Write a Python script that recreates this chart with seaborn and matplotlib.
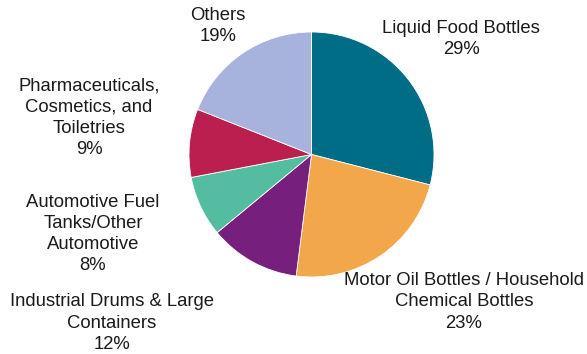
import matplotlib
matplotlib.use("Agg")
import matplotlib.pyplot as plt
import seaborn as sns

categories = [
    "Liquid Food Bottles",
    "Motor Oil Bottles / Household\nChemical Bottles",
    "Industrial Drums & Large\nContainers",
    "Automotive Fuel\nTanks/Other\nAutomotive",
    "Pharmaceuticals,\nCosmetics, and\nToiletries",
    "Others",
]
values = [29, 23, 12, 8, 9, 19]
colors = ["#006D87", "#F2A74B", "#761F7C", "#54BCA0", "#BA1F4F", "#A8B3DD"]

# label centre positions in pixel coordinates (x from left, y from top)
label_pos = [(461, 39), (464, 302), (112, 323), (93, 234), (89, 118), (218, 26)]

sns.set_theme(style="white")
plt.rcParams["font.family"] = ["Liberation Sans", "DejaVu Sans"]

W, H = 587, 354
fig = plt.figure(figsize=(W / 100, H / 100), dpi=100)
ax = fig.add_axes([0, 0, 1, 1])
palette = sns.color_palette(colors)

ax.pie(values, colors=palette, startangle=90, counterclock=False,
       center=(311.5, H - 154.5), radius=122.5, frame=True,
       wedgeprops=dict(edgecolor="white", linewidth=0.6))
ax.set_xlim(0, W)
ax.set_ylim(0, H)
ax.set_aspect("equal")
ax.axis("off")

for cat, val, (x, y) in zip(categories, values, label_pos):
    ax.text(x, H - y, f"{cat}\n{val}%", ha="center", va="center",
            fontsize=13.3, color="#1a1a1a", linespacing=1.33)

fig.savefig("out.png", dpi=100)
